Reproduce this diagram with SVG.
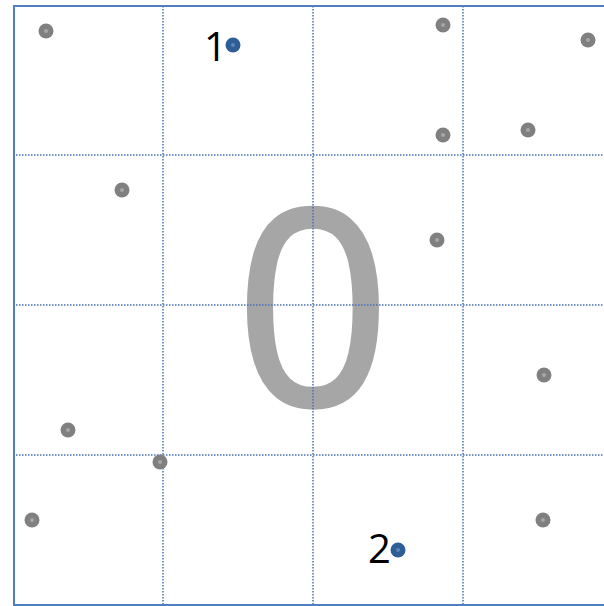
<svg xmlns="http://www.w3.org/2000/svg" width="604" height="606" viewBox="0 0 604 606">
<style>
.grid{stroke:#4472b5;stroke-width:1.5;stroke-dasharray:1.5 1.5;fill:none}
.dot{fill:#808080}
.dotc{fill:#a6a6a6}
.bdot{fill:#2f5d95}
.bdotc{fill:#5a86c0}
.lbl{font-family:"Open Sans","Liberation Sans",sans-serif;font-size:40px;fill:#000}
</style>
<rect width="604" height="606" fill="#fff"/>
<text id="zero" x="313" y="405" text-anchor="middle" font-family="Open Sans, Liberation Sans, sans-serif" font-size="272" fill="#a6a6a6" stroke="#a6a6a6" stroke-width="4">0</text>
<g id="grid">
<line class="grid" x1="163" y1="6" x2="163" y2="605"/>
<line class="grid" x1="313" y1="6" x2="313" y2="605"/>
<line class="grid" x1="463" y1="6" x2="463" y2="605"/>
<line class="grid" x1="13" y1="155" x2="604" y2="155"/>
<line class="grid" x1="13" y1="305" x2="604" y2="305"/>
<line class="grid" x1="13" y1="455" x2="604" y2="455"/>
</g>
<path id="frame" d="M604 6 H14 V605 H604" fill="none" stroke="#4f7fc0" stroke-width="2"/>
<g id="points">
<g><circle class="dot" cx="46" cy="31" r="7.5"/><circle class="dotc" cx="46" cy="31" r="2"/></g>
<g><circle class="dot" cx="443" cy="25" r="7.5"/><circle class="dotc" cx="443" cy="25" r="2"/></g>
<g><circle class="dot" cx="588" cy="40" r="7.5"/><circle class="dotc" cx="588" cy="40" r="2"/></g>
<g><circle class="dot" cx="443" cy="135" r="7.5"/><circle class="dotc" cx="443" cy="135" r="2"/></g>
<g><circle class="dot" cx="528" cy="130" r="7.5"/><circle class="dotc" cx="528" cy="130" r="2"/></g>
<g><circle class="dot" cx="122" cy="190" r="7.5"/><circle class="dotc" cx="122" cy="190" r="2"/></g>
<g><circle class="dot" cx="437" cy="240" r="7.5"/><circle class="dotc" cx="437" cy="240" r="2"/></g>
<g><circle class="dot" cx="544" cy="375" r="7.5"/><circle class="dotc" cx="544" cy="375" r="2"/></g>
<g><circle class="dot" cx="68" cy="430" r="7.5"/><circle class="dotc" cx="68" cy="430" r="2"/></g>
<g><circle class="dot" cx="160" cy="462" r="7.5"/><circle class="dotc" cx="160" cy="462" r="2"/></g>
<g><circle class="dot" cx="32" cy="520" r="7.5"/><circle class="dotc" cx="32" cy="520" r="2"/></g>
<g><circle class="dot" cx="543" cy="520" r="7.5"/><circle class="dotc" cx="543" cy="520" r="2"/></g>
</g>
<g id="p1"><circle class="bdot" cx="233" cy="45" r="7.5"/><circle class="bdotc" cx="233" cy="45" r="2"/><text class="lbl" x="204" y="61">1</text></g>
<g id="p2"><circle class="bdot" cx="398" cy="550" r="7.5"/><circle class="bdotc" cx="398" cy="550" r="2"/><text class="lbl" x="368" y="563">2</text></g>
</svg>
